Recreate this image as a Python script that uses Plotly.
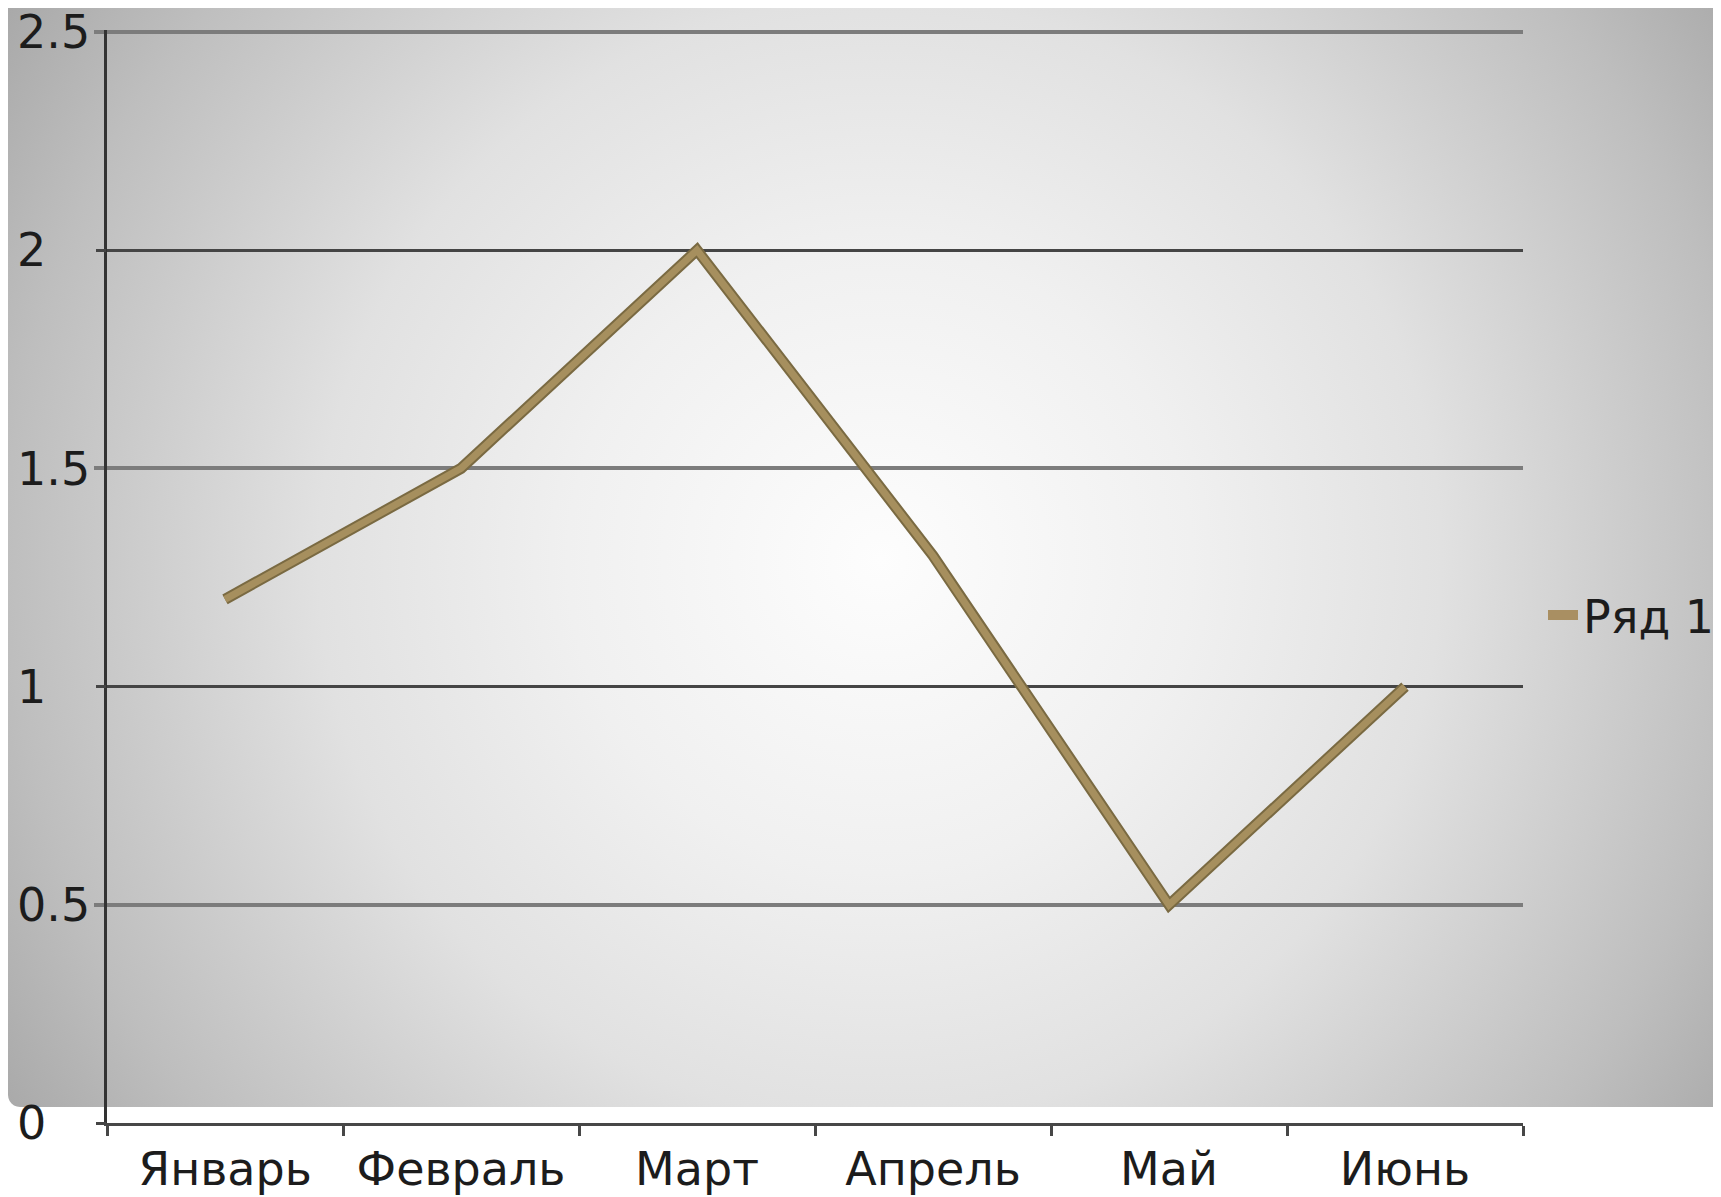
import numpy as np
import plotly.graph_objects as go

# The page body has an 8px margin, so the figure is offset by 8px on screen.
OFF = 8
W, H = 1721 - OFF, 1197 - OFF

months = ["Январь", "Февраль", "Март", "Апрель", "Май", "Июнь"]
series_values = [1.2, 1.5, 2.0, 1.3, 0.5, 1.0]
series_name = "Ряд 1"
y_ticks = [0, 0.5, 1, 1.5, 2, 2.5]
y_tick_labels = ["0", "0.5", "1", "1.5", "2", "2.5"]

FONT = "DejaVu Sans"
TXT = "#1c1c1c"


def px(v):  # screen x -> paper fraction
    return (v - OFF) / W


def py(v):  # screen y -> paper fraction
    return 1 - (v - OFF) / H


# ---- background panel (radial gradient), drawn on a full-paper helper axis ----
cx, cy, R = px(880), py(560), 1040
hx, hy = R / W, R / H
left, bottom = px(8), py(1107)
bx0, bx1, by0, by1 = cx - hx, cx + hx, cy - hy, cy + hy
r = 12
ang = np.linspace(np.pi, 1.5 * np.pi, 7)
arc_x = [left + (r / W) * (1 + np.cos(a)) for a in ang]
arc_y = [bottom + (r / H) * (1 + np.sin(a)) for a in ang]
bg_x = arc_x + [bx1, bx1, left, bx0, bx0, bx0, left, left]
bg_y = arc_y + [bottom, by1, by1, by1, by0, by1, by1, bottom + r / H]

fig = go.Figure()
fig.add_trace(go.Scatter(
    x=bg_x, y=bg_y, mode="lines", fill="toself", line=dict(width=0),
    fillgradient=dict(type="radial",
                      colorscale=[[0, "#fdfdfd"], [0.3, "#f0f0f0"], [0.54, "#e1e1e1"],
                                  [0.84, "#bebebe"], [1, "#a8a8a8"]]),
    hoverinfo="skip", showlegend=False, xaxis="x", yaxis="y"))

# ---- data line ----
fig.add_trace(go.Scatter(
    x=months, y=series_values, mode="lines",
    line=dict(color="#7a6a42", width=11), showlegend=False,
    xaxis="x2", yaxis="y2", hoverinfo="skip"))
fig.add_trace(go.Scatter(
    x=months, y=series_values, mode="lines", name=series_name,
    line=dict(color="#a68f5e", width=7), showlegend=False, legendgroup="s1",
    xaxis="x2", yaxis="y2"))
# legend entry (thicker swatch like the reference)
fig.add_trace(go.Scatter(
    x=[None], y=[None], mode="lines", name=series_name, legendgroup="s1",
    line=dict(color="#a98f62", width=10), showlegend=True,
    xaxis="x2", yaxis="y2", hoverinfo="skip"))
# helper (empty) traces so the overlay axes get drawn
for ya in ("y3", "y4"):
    fig.add_trace(go.Scatter(x=[None], y=[None], mode="lines", showlegend=False,
                             hoverinfo="skip", xaxis="x2", yaxis=ya))

YR = [0, 2.504]
unit = (1123 - 32) / 2.5
xdom = [px(107), px(1523)]
ydom = [py(1123), py(1123 - YR[1] * unit)]

fig.update_layout(
    width=W, height=H,
    margin=dict(l=0, r=0, t=0, b=0, autoexpand=False),
    paper_bgcolor="white", plot_bgcolor="rgba(0,0,0,0)",
    font=dict(family=FONT, size=46, color=TXT),
    xaxis=dict(domain=[0, 1], range=[0, 1], visible=False, fixedrange=True),
    yaxis=dict(domain=[0, 1], range=[0, 1], visible=False, fixedrange=True),
    xaxis2=dict(domain=xdom, anchor="y2", type="category", range=[-0.5, 5.5],
                categoryorder="array", categoryarray=months,
                showline=True, linecolor="#474747", linewidth=2.5,
                ticks="outside", tickson="boundaries", ticklen=10, tickwidth=2.5,
                tickcolor="#474747", showgrid=False, zeroline=False,
                tickfont=dict(family=FONT, size=46, color=TXT),
                ticklabelstandoff=4, ticklabeloverflow="allow"),
    yaxis2=dict(domain=ydom, anchor="x2", range=YR,
                tickvals=[0.5, 1.5, 2.5], showticklabels=False,
                showgrid=True, gridcolor="#7c7c7c", gridwidth=4,
                ticks="outside", ticklen=10, tickwidth=4, tickcolor="#7c7c7c",
                showline=True, linecolor="#333333", linewidth=2.5, zeroline=False),
    yaxis3=dict(overlaying="y2", anchor="x2", side="left", range=YR,
                tickvals=[0, 1, 2], showticklabels=False,
                showgrid=True, gridcolor="#454545", gridwidth=2.5,
                ticks="outside", ticklen=10, tickwidth=2.5, tickcolor="#454545",
                showline=False, zeroline=False),
    yaxis4=dict(overlaying="y2", anchor="free", position=px(16), side="right",
                range=YR, tickvals=y_ticks, ticktext=y_tick_labels,
                showgrid=False, showline=False, zeroline=False, ticks="",
                ticklabeloverflow="allow",
                tickfont=dict(family=FONT, size=46, color=TXT)),
    legend=dict(x=px(1543), y=py(615), xanchor="left", yanchor="middle",
                bgcolor="rgba(0,0,0,0)", font=dict(family=FONT, size=46, color=TXT),
                itemwidth=30),
    showlegend=True,
)

fig.write_html("out.html")
